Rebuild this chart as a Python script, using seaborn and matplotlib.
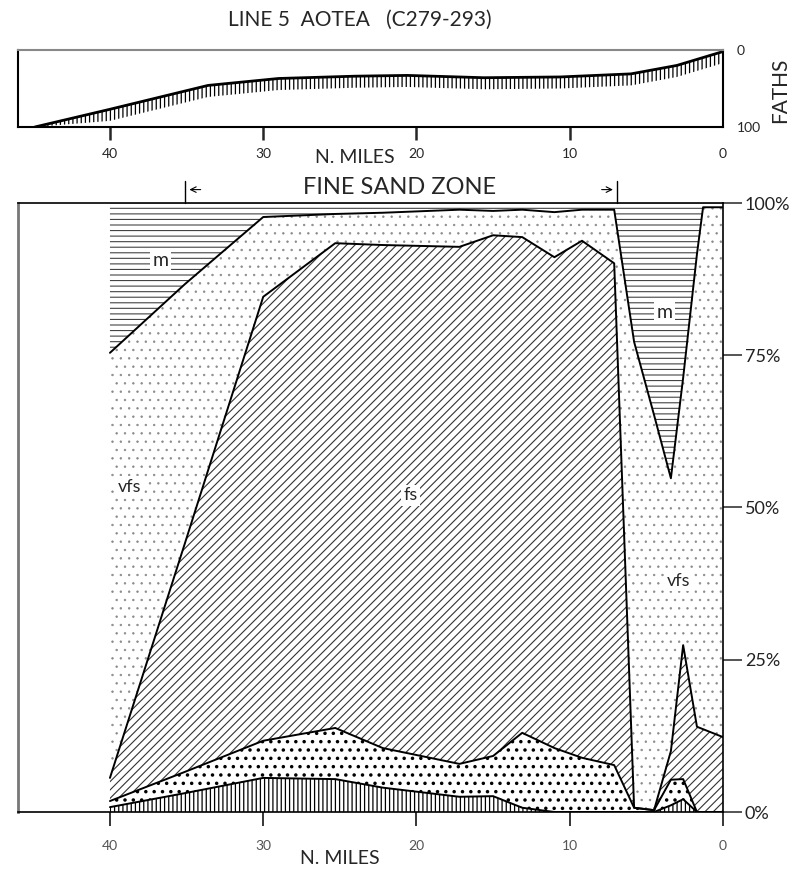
import numpy as np
import seaborn as sns
import matplotlib.pyplot as plt

# Sample positions along the line (nautical miles from shore)
station_miles = [40.0, 35.1, 30.0, 25.3, 22.2, 17.2, 15.0, 13.1, 11.0,
                 9.2, 7.1, 5.8, 4.5, 3.4, 2.6, 1.7, 1.3, 0.0]

# Grain-size fractions (%) at each station, bottom to top of the stack
coarse_pct = [0.8, 3.1, 5.6, 5.4, 4.0, 2.5, 2.6, 0.7, 0.0,
              0.0, 0.0, 0.0, 0.0, 1.1, 2.1, 0.0, 0.0, 0.0]
medium_pct = [1.0, 3.5, 6.1, 8.4, 6.5, 5.4, 6.6, 12.3, 10.5,
              8.9, 7.7, 0.7, 0.3, 4.2, 3.3, 0.0, 0.0, 0.0]
fs_pct = [3.8, 37.6, 72.9, 79.6, 82.6, 84.9, 85.5, 81.4, 80.6,
          84.9, 82.4, 0.0, 0.0, 4.7, 22.0, 14.0, 13.6, 12.3]
vfs_pct = [69.8, 42.5, 13.1, 4.8, 5.3, 6.1, 4.0, 4.5, 7.4,
           5.1, 8.8, 76.5, 64.9, 44.8, 43.9, 77.6, 85.7, 87.0]
mud_pct = [24.6, 13.3, 2.3, 1.8, 1.6, 1.1, 1.3, 1.1, 1.5,
           1.1, 1.1, 22.8, 34.8, 45.2, 28.7, 8.4, 0.7, 0.7]

# Echo-sounding profile
profile_miles = [44.9, 40.0, 33.6, 29.0, 24.0, 20.6, 15.6, 10.6, 6.0, 3.0, 0.0]
profile_faths = [100, 77, 46, 37, 34, 33, 36, 35, 31, 20, 2]

fine_sand_zone = [35.1, 6.9]
mile_ticks = [40, 30, 20, 10, 0]
pct_ticks = [0, 25, 50, 75, 100]
pct_labels = ["0%", "25%", "50%", "75%", "100%"]

sns.set_style("white")
plt.rcParams["font.family"] = ["Lato", "DejaVu Sans"]
plt.rcParams["hatch.linewidth"] = 0.9

W, H = 797, 872
fig = plt.figure(figsize=(W / 100, H / 100), dpi=100)
ax_top = fig.add_axes([18 / W, 1 - 127 / H, 705 / W, 77 / H])
ax = fig.add_axes([18 / W, 1 - 812 / H, 705 / W, 609 / H])

# ---- main composition chart
x = np.array(station_miles)
layers = np.vstack([coarse_pct, medium_pct, fs_pct, vfs_pct, mud_pct])
upper = np.cumsum(layers, axis=0)
lower = np.vstack([np.zeros(len(x)), upper[:-1]])

hatches = ["||||", "..", "////", "..", "---"]
hatch_colors = ["black", "black", "#333333", "#8a8a8a", "#444444"]
hatch_widths = [0.9, 1.3, 0.8, 0.5, 0.8]
for lo, hi, h, c, hw in zip(lower, upper, hatches, hatch_colors, hatch_widths):
    coll = ax.fill_between(x, lo, hi, facecolor="white", edgecolor=c,
                           hatch=h, linewidth=0)
    if hasattr(coll, "set_hatch_linewidth"):
        coll.set_hatch_linewidth(hw)

for boundary in upper[:-1]:
    sns.lineplot(x=x, y=boundary, color="black", linewidth=1.4, ax=ax)

# zone labels
label_box = dict(facecolor="white", edgecolor="none", pad=2)
ax.text(36.7, 90.6, "m", ha="center", va="center", fontsize=14, bbox=label_box)
ax.text(3.8, 82.0, "m", ha="center", va="center", fontsize=14, bbox=label_box)
ax.text(38.7, 53.4, "vfs", ha="center", va="center", fontsize=13, bbox=label_box)
ax.text(20.4, 52.0, "fs", ha="center", va="center", fontsize=13, bbox=label_box)
ax.text(2.9, 38.0, "vfs", ha="center", va="center", fontsize=13, bbox=label_box)

ax.set_xlim(46.0, 0)
ax.set_ylim(0, 100)
ax.set_xticks(mile_ticks)
ax.set_xticklabels([str(m) for m in mile_ticks])
ax.set_yticks(pct_ticks)
ax.set_yticklabels(pct_labels)
ax.yaxis.tick_right()
ax.tick_params(axis="y", direction="out", length=13.7, width=1.1, pad=2,
               labelsize=13, labelcolor="#222222")
ax.tick_params(axis="x", bottom=True, direction="out", length=10, width=1.3,
               pad=10, labelsize=10, labelcolor="#555555")
ax.set_xlabel("")
ax.set_ylabel("")
for side in ["top", "right", "bottom"]:
    ax.spines[side].set_color("black")
    ax.spines[side].set_linewidth(1.2)
ax.spines["left"].set_color("#777777")
ax.spines["left"].set_linewidth(2.0)

xt = ax.get_xaxis_transform()
ax.text(25.0, -0.076, "N. MILES", transform=xt, ha="center", va="center",
        fontsize=14)

# fine sand zone marker
ax.text(21.1, 1.025, "FINE SAND ZONE", transform=xt, ha="center", va="center",
        fontsize=17)
for zx in fine_sand_zone:
    ax.plot([zx, zx], [1.0, 1.036], transform=xt, color="black", lw=1.0,
            clip_on=False)
ax.annotate("", xy=(fine_sand_zone[0] - 0.1, 1.022),
            xytext=(fine_sand_zone[0] - 1.2, 1.022), xycoords=xt,
            arrowprops=dict(arrowstyle="->", lw=0.8, color="black"))
ax.annotate("", xy=(fine_sand_zone[1] + 0.1, 1.022),
            xytext=(fine_sand_zone[1] + 1.2, 1.022), xycoords=xt,
            arrowprops=dict(arrowstyle="->", lw=0.8, color="black"))

# ---- depth profile
pm = np.array(profile_miles)
pf = np.array(profile_faths)
fringe = ax_top.fill_between(pm, pf, np.minimum(pf + 15, 100),
                             facecolor="none", edgecolor="black",
                             hatch="||||", linewidth=0)
if hasattr(fringe, "set_hatch_linewidth"):
    fringe.set_hatch_linewidth(0.9)
sns.lineplot(x=pm, y=pf, color="black", linewidth=2.0, ax=ax_top)

ax_top.set_xlim(46.0, 0)
ax_top.set_ylim(100, 0)
ax_top.set_xticks(mile_ticks)
ax_top.set_xticklabels([str(m) for m in mile_ticks])
ax_top.tick_params(axis="x", bottom=True, direction="out", length=9,
                   width=1.8, pad=6, labelsize=10)
ax_top.get_xaxis().get_major_ticks()[-1].tick1line.set_visible(False)
ax_top.yaxis.tick_right()
ax_top.set_yticks([0, 100])
ax_top.set_yticklabels(["0", "100"])
ax_top.tick_params(axis="y", length=0, pad=10, labelsize=10)
ax_top.set_xlabel("")
ax_top.set_ylabel("")
for side in ["left", "right", "bottom"]:
    ax_top.spines[side].set_color("black")
    ax_top.spines[side].set_linewidth(1.5)
ax_top.spines["top"].set_color("#888888")
ax_top.spines["top"].set_linewidth(1.5)

ax_top.text(24.0, -0.39, "N. MILES", transform=ax_top.get_xaxis_transform(),
            ha="center", va="center", fontsize=14)
fig.text(780 / W, 1 - 90 / H, "FATHS", rotation=90, ha="center", va="center",
         fontsize=15)
fig.text(360 / W, 1 - 20 / H, "LINE 5  AOTEA   (C279-293)", ha="center",
         va="center", fontsize=15)

fig.savefig("out.png", dpi=100)
